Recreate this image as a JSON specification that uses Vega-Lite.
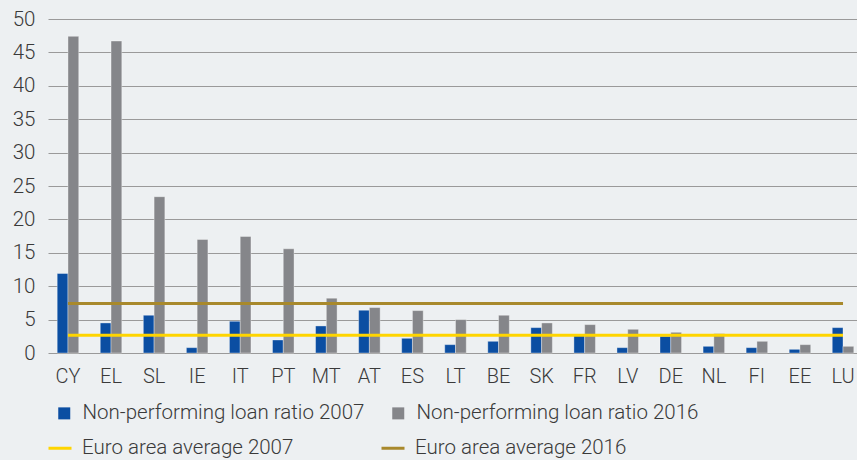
{
  "$schema": "https://vega.github.io/schema/vega-lite/v6.json",
  "width": 809,
  "height": 334,
  "autosize": "none",
  "padding": {"left": 48, "top": 19, "right": 0, "bottom": 107},
  "background": "#edf0f2",
  "config": {
    "view": {"stroke": null},
    "font": "Roboto",
    "axis": {"labelFont": "Roboto", "labelFontWeight": 300, "labelColor": "#3a3a3a"},
    "legend": {"labelFont": "Roboto", "labelFontWeight": 300, "labelColor": "#3a3a3a", "labelLimit": 500}
  },
  "datasets": {
    "bars": [
      {"country": "CY", "series": "Non-performing loan ratio 2007", "value": 11.9},
      {"country": "CY", "series": "Non-performing loan ratio 2016", "value": 47.4},
      {"country": "EL", "series": "Non-performing loan ratio 2007", "value": 4.5},
      {"country": "EL", "series": "Non-performing loan ratio 2016", "value": 46.7},
      {"country": "SL", "series": "Non-performing loan ratio 2007", "value": 5.65},
      {"country": "SL", "series": "Non-performing loan ratio 2016", "value": 23.4},
      {"country": "IE", "series": "Non-performing loan ratio 2007", "value": 0.8},
      {"country": "IE", "series": "Non-performing loan ratio 2016", "value": 17.0},
      {"country": "IT", "series": "Non-performing loan ratio 2007", "value": 4.75},
      {"country": "IT", "series": "Non-performing loan ratio 2016", "value": 17.45},
      {"country": "PT", "series": "Non-performing loan ratio 2007", "value": 1.95},
      {"country": "PT", "series": "Non-performing loan ratio 2016", "value": 15.6},
      {"country": "MT", "series": "Non-performing loan ratio 2007", "value": 4.05},
      {"country": "MT", "series": "Non-performing loan ratio 2016", "value": 8.2},
      {"country": "AT", "series": "Non-performing loan ratio 2007", "value": 6.4},
      {"country": "AT", "series": "Non-performing loan ratio 2016", "value": 6.8},
      {"country": "ES", "series": "Non-performing loan ratio 2007", "value": 2.2},
      {"country": "ES", "series": "Non-performing loan ratio 2016", "value": 6.35},
      {"country": "LT", "series": "Non-performing loan ratio 2007", "value": 1.25},
      {"country": "LT", "series": "Non-performing loan ratio 2016", "value": 5.0},
      {"country": "BE", "series": "Non-performing loan ratio 2007", "value": 1.75},
      {"country": "BE", "series": "Non-performing loan ratio 2016", "value": 5.65},
      {"country": "SK", "series": "Non-performing loan ratio 2007", "value": 3.8},
      {"country": "SK", "series": "Non-performing loan ratio 2016", "value": 4.5},
      {"country": "FR", "series": "Non-performing loan ratio 2007", "value": 2.8},
      {"country": "FR", "series": "Non-performing loan ratio 2016", "value": 4.25},
      {"country": "LV", "series": "Non-performing loan ratio 2007", "value": 0.8},
      {"country": "LV", "series": "Non-performing loan ratio 2016", "value": 3.55},
      {"country": "DE", "series": "Non-performing loan ratio 2007", "value": 2.5},
      {"country": "DE", "series": "Non-performing loan ratio 2016", "value": 3.1},
      {"country": "NL", "series": "Non-performing loan ratio 2007", "value": 1.0},
      {"country": "NL", "series": "Non-performing loan ratio 2016", "value": 2.9},
      {"country": "FI", "series": "Non-performing loan ratio 2007", "value": 0.8},
      {"country": "FI", "series": "Non-performing loan ratio 2016", "value": 1.75},
      {"country": "EE", "series": "Non-performing loan ratio 2007", "value": 0.55},
      {"country": "EE", "series": "Non-performing loan ratio 2016", "value": 1.25},
      {"country": "LU", "series": "Non-performing loan ratio 2007", "value": 3.8},
      {"country": "LU", "series": "Non-performing loan ratio 2016", "value": 1.0}
    ],
    "avg": [
      {"country": "CY", "series": "Euro area average 2007", "value": 2.65},
      {"country": "EL", "series": "Euro area average 2007", "value": 2.65},
      {"country": "SL", "series": "Euro area average 2007", "value": 2.65},
      {"country": "IE", "series": "Euro area average 2007", "value": 2.65},
      {"country": "IT", "series": "Euro area average 2007", "value": 2.65},
      {"country": "PT", "series": "Euro area average 2007", "value": 2.65},
      {"country": "MT", "series": "Euro area average 2007", "value": 2.65},
      {"country": "AT", "series": "Euro area average 2007", "value": 2.65},
      {"country": "ES", "series": "Euro area average 2007", "value": 2.65},
      {"country": "LT", "series": "Euro area average 2007", "value": 2.65},
      {"country": "BE", "series": "Euro area average 2007", "value": 2.65},
      {"country": "SK", "series": "Euro area average 2007", "value": 2.65},
      {"country": "FR", "series": "Euro area average 2007", "value": 2.65},
      {"country": "LV", "series": "Euro area average 2007", "value": 2.65},
      {"country": "DE", "series": "Euro area average 2007", "value": 2.65},
      {"country": "NL", "series": "Euro area average 2007", "value": 2.65},
      {"country": "FI", "series": "Euro area average 2007", "value": 2.65},
      {"country": "EE", "series": "Euro area average 2007", "value": 2.65},
      {"country": "LU", "series": "Euro area average 2007", "value": 2.65},
      {"country": "CY", "series": "Euro area average 2016", "value": 7.4},
      {"country": "EL", "series": "Euro area average 2016", "value": 7.4},
      {"country": "SL", "series": "Euro area average 2016", "value": 7.4},
      {"country": "IE", "series": "Euro area average 2016", "value": 7.4},
      {"country": "IT", "series": "Euro area average 2016", "value": 7.4},
      {"country": "PT", "series": "Euro area average 2016", "value": 7.4},
      {"country": "MT", "series": "Euro area average 2016", "value": 7.4},
      {"country": "AT", "series": "Euro area average 2016", "value": 7.4},
      {"country": "ES", "series": "Euro area average 2016", "value": 7.4},
      {"country": "LT", "series": "Euro area average 2016", "value": 7.4},
      {"country": "BE", "series": "Euro area average 2016", "value": 7.4},
      {"country": "SK", "series": "Euro area average 2016", "value": 7.4},
      {"country": "FR", "series": "Euro area average 2016", "value": 7.4},
      {"country": "LV", "series": "Euro area average 2016", "value": 7.4},
      {"country": "DE", "series": "Euro area average 2016", "value": 7.4},
      {"country": "NL", "series": "Euro area average 2016", "value": 7.4},
      {"country": "FI", "series": "Euro area average 2016", "value": 7.4},
      {"country": "EE", "series": "Euro area average 2016", "value": 7.4},
      {"country": "LU", "series": "Euro area average 2016", "value": 7.4}
    ]
  },
  "encoding": {
    "x": {
      "field": "country",
      "type": "nominal",
      "sort": null,
      "scale": {"range": [0, 815], "paddingInner": 0.5, "paddingOuter": 0.214},
      "axis": {
        "title": null, "domain": false, "ticks": false, "labelAngle": 0,
        "labelFontSize": 20, "labelPadding": 13
      }
    },
    "y": {
      "field": "value",
      "type": "quantitative",
      "scale": {"domain": [0, 50]},
      "axis": {
        "title": null, "domain": false, "ticks": false,
        "values": [0, 5, 10, 15, 20, 25, 30, 35, 40, 45, 50],
        "labelFontSize": 20.5, "labelPadding": 13,
        "gridColor": "#9a9a9a", "gridWidth": 1.2
      }
    }
  },
  "layer": [
    {
      "data": {"name": "bars"},
      "mark": {"type": "bar", "stroke": "#ffffff", "strokeOpacity": 0.35, "strokeWidth": 1},
      "encoding": {
        "xOffset": {"field": "series", "type": "nominal", "sort": null},
        "fill": {
          "field": "series",
          "type": "nominal",
          "scale": {
            "domain": ["Non-performing loan ratio 2007", "Non-performing loan ratio 2016"],
            "range": ["#0b4ea2", "#85868a"]
          },
          "legend": {
            "title": null, "orient": "none", "direction": "horizontal",
            "legendX": 6, "legendY": 384, "padding": 0,
            "symbolType": "square", "symbolSize": 144, "symbolStrokeWidth": 0,
            "labelFontSize": 20.5, "labelOffset": 8, "columnPadding": 23, "labelLimit": 500
          }
        }
      }
    },
    {
      "data": {"name": "avg"},
      "mark": {"type": "line", "strokeWidth": 3},
      "encoding": {
        "stroke": {
          "field": "series",
          "type": "nominal",
          "scale": {
            "domain": ["Euro area average 2007", "Euro area average 2016"],
            "range": ["#ffd500", "#a8892c"]
          },
          "legend": {
            "title": null, "orient": "none", "direction": "horizontal",
            "legendX": -1, "legendY": 416, "padding": 0,
            "symbolType": "stroke", "symbolSize": 529, "symbolStrokeWidth": 3,
            "labelFontSize": 20.5, "labelOffset": 9, "columnPadding": 81, "labelLimit": 500
          }
        }
      }
    }
  ]
}
